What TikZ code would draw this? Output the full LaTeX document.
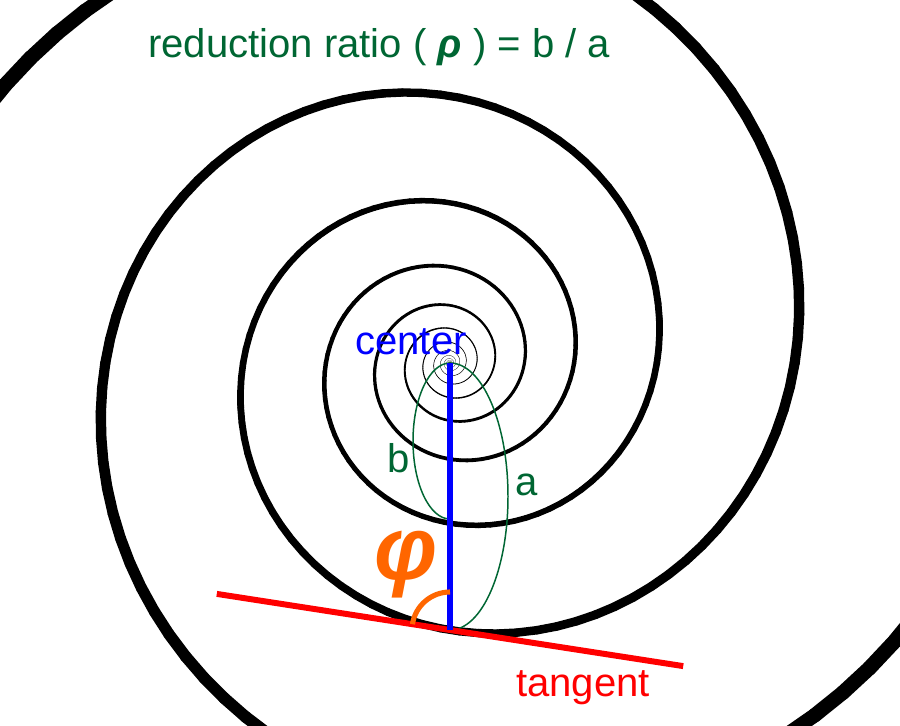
\documentclass[tikz,border=0pt]{standalone}
\usepackage{fontspec}
\setmainfont{Liberation Sans}
\definecolor{ratiogreen}{RGB}{0,102,51}
\definecolor{phiorange}{RGB}{255,102,0}

\begin{document}
\begin{tikzpicture}[x=0.02cm,y=0.02cm]
        \tikzstyle{every node} = [inner sep=0pt, font=\fontsize{22.8}{26}\selectfont]
        \useasboundingbox (0,0) rectangle (900,725);
        \clip (0,0) rectangle (900,725);
        \coordinate (c) at (450,362);
        \coordinate (p) at (450,95);
        \coordinate (q) at (450,206);

        \begin{scope}[shift={(c)}, line cap=round]
        \foreach \t in {-2120,-2116,...,570} {
            \pgfmathsetmacro\ra{267*exp(0.0028449*(\t-270))}
            \pgfmathsetmacro\rb{267*exp(0.0028449*(\t-266))}
            \pgfmathsetmacro\fa{min(1,\ra/60)}
            \pgfmathsetmacro\lw{0.0074*(\ra+\rb)+0.7*\fa*\fa}
            \draw[line width=\lw pt] (\t:\ra) -- (\t+4:\rb);
            \draw[line width=\lw pt] (\t+180:\ra) -- (\t+184:\rb);
        }
        \end{scope}

        \draw[ratiogreen, line width=0.85pt] (c) arc[start angle=90, end angle=270, x radius=37, y radius=78];
        \draw[ratiogreen, line width=0.85pt] (c) arc[start angle=90, end angle=-90, x radius=58, y radius=133.5];

        \path (p) ++(171.2:236) coordinate (tl);
        \path (p) ++(-8.8:236) coordinate (tr);
        \draw[red, line width=3.4pt] (tl) -- (tr);
        \draw[blue, line width=3.4pt] (c) -- (p);
        \draw[phiorange, line width=2.9pt] (p) ++(90:38) arc[start angle=90, end angle=171.2, radius=38];

        \node[ratiogreen, anchor=base west] (title) at (148,667) {reduction ratio ( \textbf{\textit{ρ}} ) = b / a};
        \node[blue, anchor=base west] (centerlabel) at (355,371) {center};
        \node[red, anchor=base] (tangentlabel) at (583,29) {tangent};
        \node[ratiogreen, anchor=base] (blabel) at (399,253) {b};
        \node[ratiogreen, anchor=base] (alabel) at (527,230) {a};
        \node[phiorange, font=\fontsize{51}{56}\selectfont\bfseries\itshape] (philabel) at (406,160) {φ};
\end{tikzpicture}
\end{document}
